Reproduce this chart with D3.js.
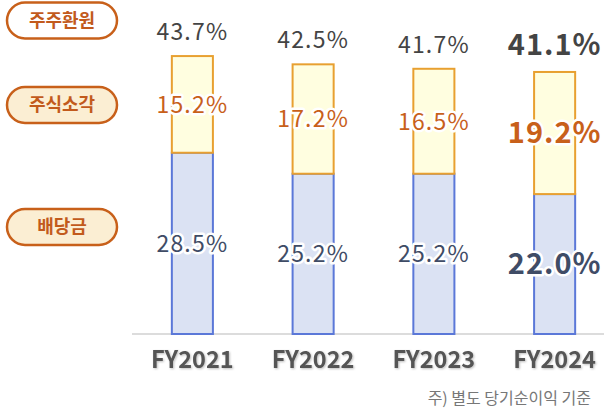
<!DOCTYPE html>
<html><head><meta charset="utf-8">
<script src="https://cdn.jsdelivr.net/npm/d3@7/dist/d3.min.js"></script>
<style>
body{margin:0;background:#fff;}
svg{display:block;font-family:"Noto Sans CJK KR","Noto Sans",sans-serif;}
</style></head>
<body><svg id="c" width="604" height="411"></svg>
<script>
const categories = ["FY2021","FY2022","FY2023","FY2024"];
const dividend = [28.5, 25.2, 25.2, 22.0];
const buyback = [15.2, 17.2, 16.5, 19.2];
const total = [43.7, 42.5, 41.7, 41.1];
const legendLabels = ["주주환원","주식소각","배당금"];
const footnote = "주) 별도 당기순이익 기준";

const svg = d3.select("#c");
const defs = svg.append("defs");
const f = defs.append("filter").attr("id","sh").attr("x","-10%").attr("y","-20%").attr("width","130%").attr("height","150%");
f.append("feDropShadow").attr("dx",1).attr("dy",1).attr("stdDeviation",0.8).attr("flood-color","#000").attr("flood-opacity",0.25);

const x = d3.scaleBand().domain(categories).range([132,615]).paddingInner(0.66).paddingOuter(0.33);
const y = d3.scaleLinear().domain([0,50]).range([334,16]);

// axis line
svg.append("line").attr("x1",132).attr("x2",604).attr("y1",y(0)).attr("y2",y(0))
  .attr("stroke","#dcdcdc").attr("stroke-width",2);

const g = svg.append("g");
categories.forEach((c,i)=>{
  const x0 = x(c), w = x.bandwidth();
  g.append("rect").attr("x",x0).attr("y",y(dividend[i])).attr("width",w).attr("height",y(0)-y(dividend[i]))
    .attr("fill","#dbe2f3").attr("stroke","#5b78d8").attr("stroke-width",2);
  g.append("rect").attr("x",x0).attr("y",y(dividend[i]+buyback[i])).attr("width",w).attr("height",y(dividend[i])-y(dividend[i]+buyback[i]))
    .attr("fill","#fffee0").attr("stroke","#e8a030").attr("stroke-width",2);
});

function halo(sel){return sel.attr("stroke","#fff").attr("stroke-width",5).attr("stroke-linejoin","round").attr("paint-order","stroke");}

categories.forEach((c,i)=>{
  const cx = x(c)+x.bandwidth()/2;
  const big = i===3;
  const fs = big?29:23;
  const fw = big?700:400;
  const ls = big?1:1.2;
  halo(svg.append("text").attr("x",cx).attr("y",y(total[i])-(big?18:16)).attr("text-anchor","middle")
    .attr("font-size",fs).attr("font-weight",fw).attr("letter-spacing",ls).attr("fill","#444").text(total[i].toFixed(1)+"%"));
  halo(svg.append("text").attr("x",cx).attr("y",(y(dividend[i])+y(dividend[i]+buyback[i]))/2).attr("dy","0.36em").attr("text-anchor","middle")
    .attr("font-size",fs).attr("font-weight",fw).attr("letter-spacing",ls).attr("fill","#c8601a").text(buyback[i].toFixed(1)+"%"));
  halo(svg.append("text").attr("x",cx).attr("y",(y(0)+y(dividend[i]))/2).attr("dy","0.36em").attr("text-anchor","middle")
    .attr("font-size",fs).attr("font-weight",fw).attr("letter-spacing",ls).attr("fill","#3f4c66").text(dividend[i].toFixed(1)+"%"));
  svg.append("text").attr("x",cx).attr("y",360).attr("dy","0.36em").attr("text-anchor","middle")
    .attr("font-size",23.5).attr("font-weight",700).attr("fill","#555").attr("filter","url(#sh)").text(c);
});

const pillY = [20.5,105,227];
const pillFill = ["#ffffff","#fbeed3","#fbeed3"];
legendLabels.forEach((t,i)=>{
  svg.append("rect").attr("x",7).attr("y",pillY[i]-18).attr("width",110).attr("height",36).attr("rx",18)
    .attr("fill",pillFill[i]).attr("stroke","#c8601a").attr("stroke-width",2.5);
  svg.append("text").attr("x",62).attr("y",pillY[i]).attr("dy","0.36em").attr("text-anchor","middle")
    .attr("font-size",18).attr("font-weight",700).attr("fill","#c25a1c").text(t);
});

svg.append("text").attr("x",591).attr("y",398).attr("dy","0.36em").attr("text-anchor","end")
  .attr("font-size",16).attr("fill","#777").text(footnote);
</script></body></html>
